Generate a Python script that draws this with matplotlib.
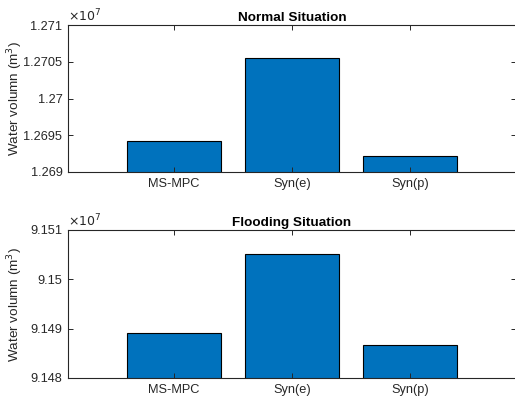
import matplotlib
matplotlib.use("Agg")
import matplotlib.pyplot as plt
from matplotlib.ticker import FuncFormatter, MultipleLocator

plt.rcParams["font.family"] = ["Liberation Sans", "DejaVu Sans"]

METHODS = ["MS-MPC", "Syn(e)", "Syn(p)"]
NORMAL_VOLUME = [12694180, 12705470, 12692220]
FLOOD_VOLUME = [91489060, 91505070, 91486750]

BAR_COLOR = "#0072BD"
AXIS_GRAY = "#262626"

W, H = 515, 401


def draw_panel(fig, rect, values, ylim, ystep, title):
    ax = fig.add_axes(rect)
    x = range(1, len(values) + 1)
    ax.bar(x, values, width=0.8, color=BAR_COLOR, edgecolor="black", linewidth=0.8)
    ax.set_xlim(0.1, 3.9)
    ax.set_ylim(*ylim)
    ax.set_xticks(list(x))
    ax.set_xticklabels(METHODS)
    ax.yaxis.set_major_locator(MultipleLocator(ystep))
    ax.yaxis.set_major_formatter(FuncFormatter(lambda v, _: f"{v / 1e7:g}"))
    ax.tick_params(direction="in", length=3.5, width=0.7, top=True, right=True,
                   labelsize=9.2, colors=AXIS_GRAY, labelcolor=AXIS_GRAY, pad=4)
    for sp in ax.spines.values():
        sp.set_color(AXIS_GRAY)
        sp.set_linewidth(0.8)
    ax.set_ylabel("Water volumn (m$^3$)", fontsize=9.7, color=AXIS_GRAY)
    # keep both y labels in the same column
    ax.yaxis.set_label_coords((25 - rect[0] * W) / (rect[2] * W), 0.5)
    ax.set_title(title, fontsize=9.7, fontweight="bold", pad=3,
                 x=(292 - rect[0] * W) / (rect[2] * W))
    ax.text(0.0, 1.005, r"$\times10^7$", transform=ax.transAxes, fontsize=9,
            color=AXIS_GRAY, ha="left", va="bottom")
    return ax


fig = plt.figure(figsize=(W / 100, H / 100), dpi=100)

left = 68 / W
width = 448 / W
draw_panel(fig, [left, 1 - 172 / H, width, 147 / H], NORMAL_VOLUME,
           (12690000, 12710000), 5000, "Normal Situation")
draw_panel(fig, [left, 1 - 378 / H, width, 148 / H], FLOOD_VOLUME,
           (91480000, 91510000), 10000, "Flooding Situation")

fig.savefig("out.png", dpi=100)
